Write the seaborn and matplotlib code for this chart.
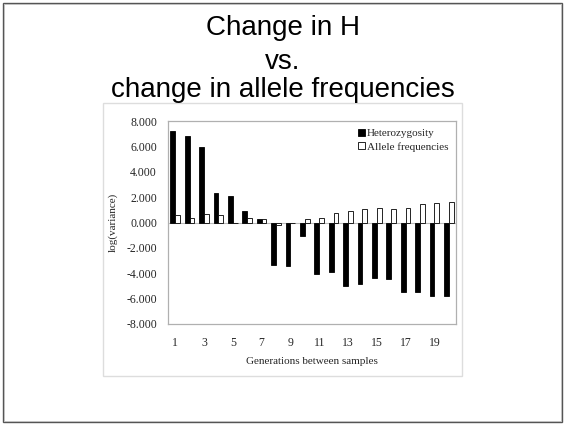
import matplotlib
matplotlib.use("Agg")
import matplotlib.pyplot as plt
from matplotlib.patches import Rectangle, Patch
import seaborn as sns
import pandas as pd

generations = list(range(1, 21))
heterozygosity = [7.24, 6.80, 5.94, 2.32, 2.11, 0.94, 0.26, -3.36, -3.44, -1.04,
                  -4.04, -3.88, -4.97, -4.82, -4.38, -4.45, -5.49, -5.49, -5.83, -5.83]
allele_freq = [0.63, 0.39, 0.70, 0.63, 0.0, 0.39, 0.31, -0.18, 0.0, 0.31,
               0.39, 0.78, 0.91, 1.09, 1.17, 1.09, 1.17, 1.46, 1.56, 1.64]
series_names = ["Heterozygosity", "Allele frequencies"]
title_lines = ["Change in H", "vs.", "change in allele frequencies"]
ytick_vals = [-8, -6, -4, -2, 0, 2, 4, 6, 8]
xtick_labels = [str(g) for g in generations[::2]]

df = pd.DataFrame({
    "gen": generations * 2,
    "value": heterozygosity + allele_freq,
    "series": [series_names[0]] * 20 + [series_names[1]] * 20,
})

sns.set_theme(style="white")
plt.rcParams["font.family"] = ["Liberation Serif", "DejaVu Serif"]

W, H = 564, 424
fig = plt.figure(figsize=(W / 100, H / 100), dpi=100)
fig.patch.set_facecolor("white")

# outer slide border
fig.add_artist(Rectangle((2.5 / W, 2.5 / H), 559 / W, 419 / H, transform=fig.transFigure,
                         fill=False, edgecolor="#555555", linewidth=1.0))
fig.add_artist(Rectangle((3.5 / W, 3.5 / H), 557 / W, 417 / H, transform=fig.transFigure,
                         fill=False, edgecolor="#bbbbbb", linewidth=0.6))
# chart box
fig.add_artist(Rectangle((103 / W, (H - 376) / H), 359 / W, 273 / H, transform=fig.transFigure,
                         fill=False, edgecolor="#dddddd", linewidth=1.0))

# title
for txt, yb in zip(title_lines, [35, 69, 97]):
    fig.text(283 / W, 1 - yb / H, txt, ha="center", va="baseline", fontsize=20,
             family=["Liberation Sans", "DejaVu Sans"], color="black")

ax = fig.add_axes([168 / W, (H - 324) / H, 288 / W, 203 / H])
sns.barplot(data=df, x="gen", y="value", hue="series", ax=ax,
            palette={series_names[0]: "black", series_names[1]: "white"},
            edgecolor="black", linewidth=0.6, width=0.66, dodge=True, legend=False)

ax.axhline(0, color="#bbbbbb", linewidth=0.8, zorder=0.5)
ax.set_ylim(-8, 8)
ax.set_xlim(-0.5, 19.5)
ax.set_yticks(ytick_vals)
ax.set_yticklabels([f"{v:.3f}" for v in ytick_vals], fontsize=8.5)
ax.set_xticks(list(range(0, 20, 2)))
ax.set_xticklabels(xtick_labels, fontsize=8.5)
ax.tick_params(axis="y", length=0, pad=8)
ax.tick_params(axis="x", length=0, pad=9)
for s in ax.spines.values():
    s.set_color("#b0b0b0")
    s.set_linewidth(0.9)
ax.set_xlabel("Generations between samples", fontsize=8, labelpad=6)
ax.set_ylabel("log(variance)", fontsize=8, labelpad=6)

handles = [Patch(facecolor="black", edgecolor="black", linewidth=0.6),
           Patch(facecolor="white", edgecolor="black", linewidth=0.6)]
ax.legend(handles, series_names, loc="upper right", frameon=False, fontsize=8,
          handlelength=0.6, handleheight=0.6, handletextpad=0.2, labelspacing=0.35,
          borderaxespad=0.3, bbox_to_anchor=(1.0, 1.0))

fig.savefig("out.png", dpi=100)
